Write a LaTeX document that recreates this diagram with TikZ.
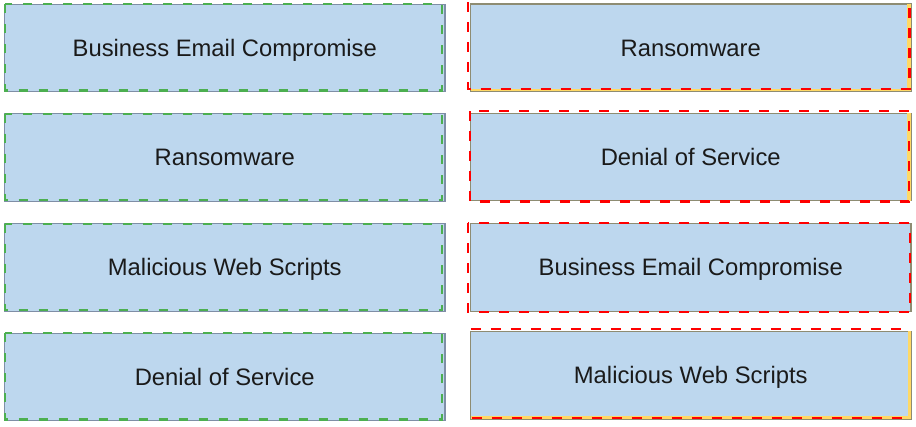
\documentclass[tikz,border=0pt]{standalone}
\usepackage{fontspec}
\setmainfont{Liberation Sans}
\definecolor{boxfill}{HTML}{BDD7EE}
\definecolor{leftedge}{HTML}{7F8FA6}
\definecolor{rightedge}{HTML}{8E8C72}
\definecolor{dashgreen}{HTML}{4CAF50}
\definecolor{dashred}{HTML}{FF0000}
\definecolor{stripyellow}{HTML}{FFD966}
\definecolor{labeltext}{HTML}{1A1A1A}
\tikzset{
  cardbox/.style={draw=#1, line width=1.4pt, fill=boxfill, rectangle, inner sep=0pt,
    minimum width=440.5pt, minimum height=87.5pt, text=labeltext,
    font=\fontsize{23.8}{28}\selectfont, text height=17pt, text depth=0pt},
  greendash/.style={draw=dashgreen, line width=2.2pt, dash pattern=on 9pt off 11pt},
  reddash/.style={draw=dashred, line width=2.2pt, dash pattern=on 10pt off 10pt},
  yellowstrip/.style={fill=stripyellow, draw=none},
}
\begin{document}
\begin{tikzpicture}[x=1pt,y=-1pt]
\useasboundingbox (0,0) rectangle (916,427);
\fill[white] (0,0) rectangle (916,427);
% ---------- left column ----------
\node[cardbox=leftedge] (l1) at (224.75,48)    {Business Email Compromise};
\node[cardbox=leftedge] (l2) at (224.75,157.5) {Ransomware};
\node[cardbox=leftedge] (l3) at (224.75,267.5) {Malicious Web Scripts};
\node[cardbox=leftedge] (l4) at (224.75,377)   {Denial of Service};
\foreach \n in {l1,l2,l3,l4}{
  \draw[greendash] ([xshift=1.2pt,yshift=-0.6pt]\n.north west) rectangle ([xshift=-3.4pt,yshift=2pt]\n.south east);
}
% ---------- right column ----------
\node[cardbox=rightedge, minimum height=87.5pt] (r1) at (690.75,47.75) {Ransomware};
\node[cardbox=rightedge] (r2) at (690.75,157)  {Denial of Service};
\node[cardbox=rightedge] (r3) at (690.75,267.5) {Business Email Compromise};
\node[cardbox=rightedge, minimum height=88pt] (r4) at (690.75,375.5) {Malicious Web Scripts};
% yellow strips
\fill[yellowstrip] ([xshift=-5pt,yshift=-0.7pt]r1.north east) rectangle ([xshift=-0.7pt,yshift=0.7pt]r1.south east);
\fill[yellowstrip] ([xshift=0.7pt,yshift=3.5pt]r1.south west) rectangle ([xshift=-0.7pt,yshift=0.7pt]r1.south east);
\fill[yellowstrip] ([xshift=-5pt,yshift=-0.7pt]r2.north east) rectangle ([xshift=-0.7pt,yshift=0.7pt]r2.south east);
\fill[yellowstrip] ([xshift=-4pt,yshift=-0.7pt]r4.north east) rectangle ([xshift=-0.7pt,yshift=0.7pt]r4.south east);
\fill[yellowstrip] ([xshift=0.7pt,yshift=4pt]r4.south west) rectangle ([xshift=-0.7pt,yshift=0.7pt]r4.south east);
% red dashed outlines
\draw[reddash] ([xshift=-2.2pt,yshift=1pt]r1.north west) -- ([xshift=-2.2pt,yshift=3pt]r1.south west)
  -- ([xshift=-2.3pt,yshift=3pt]r1.south east) -- ([xshift=-2.3pt,yshift=1pt]r1.north east);
\draw[reddash] ([xshift=0pt,yshift=1.3pt]r2.north west) rectangle ([xshift=-2.7pt,yshift=0pt]r2.south east);
\draw[reddash] ([xshift=-2pt,yshift=0pt]r3.north west) rectangle ([xshift=-2pt,yshift=0pt]r3.south east);
\draw[reddash] ([xshift=1pt,yshift=1.7pt]r4.north west) -- ([xshift=-6pt,yshift=1.7pt]r4.north east);
\draw[reddash] ([xshift=2pt,yshift=2pt]r4.south west) -- ([xshift=-3pt,yshift=2pt]r4.south east);
\end{tikzpicture}
\end{document}
